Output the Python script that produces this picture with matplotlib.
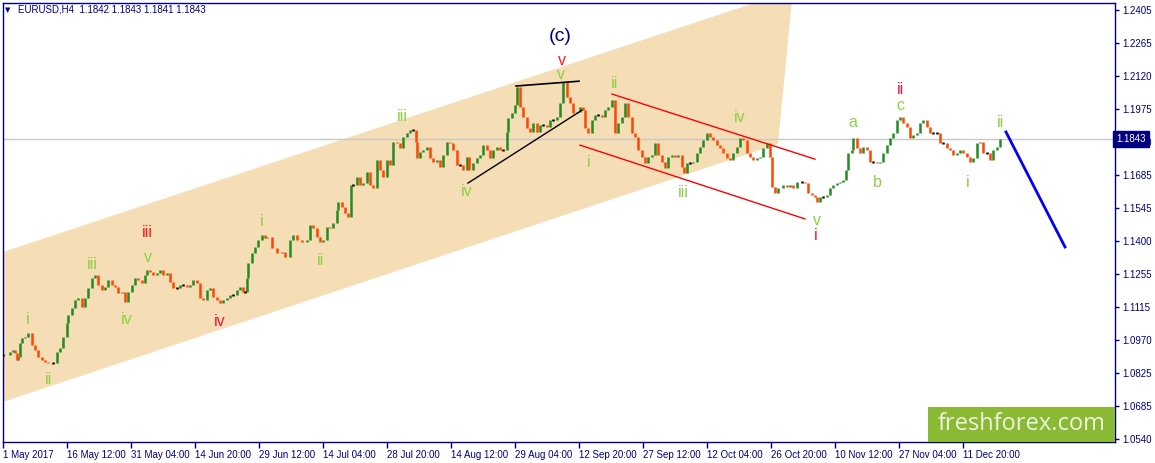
import numpy as np
import matplotlib
matplotlib.use("Agg")
import matplotlib.pyplot as plt
import matplotlib.transforms as mtransforms
from matplotlib.patches import Polygon, Rectangle

# EURUSD H4 closes, thinned to roughly every 3rd-4th bar
# bar = H4 bar number counted from 1 May 2017 00:00
bars_a = [0, 7, 10, 12, 14, 15, 17, 19, 22, 25, 29, 32, 35, 39, 42, 45, 50, 54, 57, 60,
          64, 65, 69, 72, 75, 79, 82, 85, 89, 92, 95, 99, 102, 105, 109, 112, 115, 119, 122, 125,
          129, 132, 135, 139, 142, 144, 147, 150, 154, 157, 160, 164, 167, 170, 174, 177, 180, 184, 187, 190,
          194, 197, 200, 204, 207, 210, 214, 217, 220, 224, 227, 230, 234, 237, 240, 242, 244, 245, 249, 252,
          255, 259, 262]
close_a = [1.0905, 1.0918, 1.0927, 1.0914, 1.0884, 1.0897, 1.0957, 1.0979, 1.0984, 1.1001,
           1.0949, 1.0927, 1.0897, 1.0884, 1.0875, 1.0870, 1.0870, 1.0918, 1.0936, 1.0984,
           1.1044, 1.1079, 1.1110, 1.1144, 1.1153, 1.1114, 1.1153, 1.1197, 1.1240, 1.1253,
           1.1210, 1.1188, 1.1201, 1.1231, 1.1210, 1.1201, 1.1175, 1.1179, 1.1136, 1.1179,
           1.1210, 1.1240, 1.1231, 1.1218, 1.1253, 1.1275, 1.1266, 1.1253, 1.1262, 1.1275,
           1.1253, 1.1262, 1.1223, 1.1197, 1.1197, 1.1210, 1.1210, 1.1201, 1.1210, 1.1231,
           1.1218, 1.1153, 1.1144, 1.1188, 1.1197, 1.1157, 1.1144, 1.1131, 1.1144, 1.1153,
           1.1166, 1.1166, 1.1188, 1.1201, 1.1179, 1.1179, 1.1240, 1.1305, 1.1349, 1.1375,
           1.1405, 1.1427, 1.1414]

bars_b = [264, 269, 274, 279, 282, 287, 290, 294, 299, 304, 307, 310, 314, 317, 320, 324, 327, 330, 334, 335,
          339, 342, 345, 348, 350, 354, 357, 360, 364, 367, 370, 374, 377, 380, 384, 387, 390, 394, 397, 400,
          404, 407, 410, 413, 414, 417, 420, 424, 427, 430, 434, 437, 440, 444, 447, 450, 454, 457, 460, 464,
          466, 470, 474, 477, 480, 484, 487, 490, 494, 497, 500, 504, 505, 509, 512, 514, 517, 520, 524, 527,
          530, 534, 537, 540, 544, 547, 550, 554, 557]
close_b = [1.1418, 1.1370, 1.1349, 1.1353, 1.1331, 1.1405, 1.1427, 1.1405, 1.1396, 1.1405,
           1.1470, 1.1457, 1.1418, 1.1396, 1.1405, 1.1462, 1.1457, 1.1479, 1.1536, 1.1570,
           1.1549, 1.1523, 1.1505, 1.1644, 1.1644, 1.1679, 1.1644, 1.1653, 1.1701, 1.1644,
           1.1631, 1.1753, 1.1710, 1.1679, 1.1753, 1.1731, 1.1831, 1.1827, 1.1805, 1.1853,
           1.1870, 1.1883, 1.1883, 1.1831, 1.1762, 1.1788, 1.1796, 1.1809, 1.1762, 1.1744,
           1.1753, 1.1723, 1.1775, 1.1831, 1.1827, 1.1796, 1.1731, 1.1731, 1.1710, 1.1766,
           1.1710, 1.1740, 1.1762, 1.1775, 1.1818, 1.1796, 1.1762, 1.1796, 1.1809, 1.1796,
           1.1796, 1.1875, 1.1936, 1.1957, 1.1992, 1.2070, 1.1983, 1.1940, 1.1892, 1.1875,
           1.1914, 1.1875, 1.1905, 1.1905, 1.1896, 1.1927, 1.1927, 1.1940, 1.2001]

bars_c = [560, 564, 567, 570, 574, 577, 580, 582, 585, 589, 592, 595, 599, 602, 605, 609, 612, 615, 619, 622,
          625, 629, 632, 635, 639, 642, 645, 649, 652, 655, 659, 662, 665, 669, 672, 675, 679, 681, 684, 687,
          690, 694, 697, 700, 704, 707, 710, 714, 717, 720, 724, 727, 730, 734, 737, 740, 744, 747, 750, 754,
          757, 760, 764, 767, 769, 772, 775, 780, 784, 787, 790, 794]
close_c = [1.2092, 1.2027, 1.2001, 1.1957, 1.1962, 1.1983, 1.1970, 1.1892, 1.1870, 1.1927,
           1.1949, 1.1949, 1.1940, 1.1970, 1.1983, 1.2014, 1.1870, 1.1914, 1.1940, 1.2001,
           1.1940, 1.1870, 1.1853, 1.1796, 1.1766, 1.1740, 1.1766, 1.1775, 1.1827, 1.1775,
           1.1744, 1.1718, 1.1766, 1.1775, 1.1766, 1.1775, 1.1723, 1.1696, 1.1740, 1.1740,
           1.1744, 1.1783, 1.1809, 1.1840, 1.1870, 1.1853, 1.1840, 1.1818, 1.1805, 1.1783,
           1.1762, 1.1753, 1.1783, 1.1809, 1.1849, 1.1840, 1.1783, 1.1766, 1.1753, 1.1762,
           1.1766, 1.1805, 1.1827, 1.1766, 1.1636, 1.1610, 1.1631, 1.1644, 1.1636, 1.1644,
           1.1631, 1.1657]

bars_d = [799, 802, 805, 809, 812, 814, 817, 820, 824, 827, 830, 834, 837, 840, 843, 845, 849, 850, 854, 857,
          860, 864, 867, 870, 874, 877, 880, 884, 887, 890, 894, 897, 900, 904, 907, 910, 914, 917, 920, 924,
          927, 930, 934, 937, 940, 944, 947, 950, 954, 957, 960, 964, 967, 970, 974, 977, 980, 984, 987, 990,
          994, 997]
close_d = [1.1657, 1.1653, 1.1610, 1.1601, 1.1592, 1.1570, 1.1592, 1.1592, 1.1601, 1.1631,
           1.1644, 1.1653, 1.1657, 1.1666, 1.1710, 1.1783, 1.1796, 1.1849, 1.1805, 1.1783,
           1.1809, 1.1796, 1.1744, 1.1744, 1.1740, 1.1744, 1.1783, 1.1818, 1.1849, 1.1870,
           1.1927, 1.1940, 1.1914, 1.1896, 1.1849, 1.1862, 1.1870, 1.1914, 1.1927, 1.1896,
           1.1870, 1.1870, 1.1870, 1.1827, 1.1827, 1.1805, 1.1796, 1.1775, 1.1783, 1.1796,
           1.1783, 1.1766, 1.1744, 1.1762, 1.1827, 1.1831, 1.1783, 1.1783, 1.1753, 1.1796,
           1.1809, 1.1843]

time_labels = ["1 May 2017", "16 May 12:00", "31 May 04:00", "14 Jun 20:00", "29 Jun 12:00",
               "14 Jul 04:00", "28 Jul 20:00", "14 Aug 12:00", "29 Aug 04:00", "12 Sep 20:00",
               "27 Sep 12:00", "12 Oct 04:00", "26 Oct 20:00", "10 Nov 12:00", "27 Nov 04:00",
               "11 Dec 20:00"]
price_labels = ["1.2405", "1.2265", "1.2120", "1.1975", "1.1830", "1.1685", "1.1545",
                "1.1400", "1.1255", "1.1115", "1.0970", "1.0825", "1.0685", "1.0540"]
last_price = 1.1843
header = "EURUSD,H4  1.1842 1.1843 1.1841 1.1843"

# wave counts: (text, bar, price, colour key)
waves = [("i", 25, 1.1058, "g"), ("ii", 46, 1.0797, "g"), ("iii", 89, 1.1301, "g"),
         ("iv", 124, 1.1058, "g"), ("v", 145, 1.1331, "g"), ("iii", 144, 1.1440, "r"),
         ("iv", 217, 1.1053, "c"), ("i", 259, 1.1488, "g"), ("ii", 317, 1.1318, "g"),
         ("iii", 399, 1.1944, "g"), ("iv", 464, 1.1618, "g"), ("v", 558, 1.2127, "g"),
         ("v", 559, 1.2188, "r"), ("i", 586, 1.1744, "g"), ("ii", 611, 1.2088, "g"),
         ("iii", 680, 1.1610, "g"), ("iv", 737, 1.1936, "g"), ("v", 814, 1.1492, "g"),
         ("i", 813, 1.1423, "c"), ("a", 850, 1.1918, "g"), ("b", 874, 1.1657, "g"),
         ("c", 897, 1.1990, "g"), ("ii", 897, 1.2058, "c"), ("i", 965, 1.1657, "g"),
         ("ii", 997, 1.1918, "g")]
wave_colors = {"g": "#8ccf45", "r": "#ff1a1a", "c": "#e8173f"}

navy = "#000080"
up_col = "#228b22"
dn_col = "#ff4500"

bars = np.array(bars_a + bars_b + bars_c + bars_d)
closes = np.array(close_a + close_b + close_c + close_d)
opens = np.concatenate([[closes[0]], closes[:-1]])

fig = plt.figure(figsize=(11.55, 4.63), dpi=100)
ax = fig.add_axes([3 / 1155, 21 / 463, 1112 / 1155, 439 / 463])
ax.set_xlim(0, 1112)
ax.set_ylim(1.0527, 1.2436)

# rising channel (filled)
ax.add_patch(Polygon([(0, 1.1353), (790, 1.2492), (775, 1.1823), (0, 1.0701)],
                     closed=True, fc="#f5deb5", ec="none", zorder=1))

ax.axhline(last_price, color="#c8c8c8", lw=1, zorder=1.5)

# candles
up = closes > opens
dn = closes < opens
flat = ~(up | dn)
ax.vlines(bars[up], opens[up], closes[up], color=up_col, lw=1.8, zorder=3)
ax.vlines(bars[dn], closes[dn], opens[dn], color=dn_col, lw=1.8, zorder=3)
ax.vlines(bars[flat], closes[flat] - 0.0003, closes[flat] + 0.0003, color="black", lw=1.8, zorder=3)

# drawn lines
ax.plot([465, 579], [1.1653, 1.1970], color="black", lw=1, zorder=4)
ax.plot([513, 576], [1.2075, 1.2096], color="black", lw=1.2, zorder=4)
ax.plot([609, 812], [1.2040, 1.1757], color="#ff0000", lw=1, zorder=4)
ax.plot([577, 802], [1.1818, 1.1497], color="#ff0000", lw=1, zorder=4)
ax.plot([1003, 1062], [1.1875, 1.1375], color="#0000ff", lw=2, zorder=4)

for txt, b, p, k in waves:
    ax.text(b, p, txt, color=wave_colors[k], fontsize=11.5, family="Liberation Sans",
            ha="center", va="center", zorder=5)
ax.text(557, 1.2292, "(c)", color=navy, fontsize=14, family="Liberation Sans",
        ha="center", va="center", zorder=5)

# axes styling
for s in ax.spines.values():
    s.set_color(navy)
    s.set_linewidth(1)
ax.set_facecolor("white")
ax.set_xticks(np.arange(len(time_labels)) * 64.02)
ax.set_xticklabels(time_labels, ha="left", fontsize=7, family="Liberation Sans", color=navy)
ax.yaxis.tick_right()
ax.set_yticks(np.linspace(1.2405, 1.0540, len(price_labels)))
ax.set_yticklabels(price_labels, fontsize=7, family="Liberation Sans", color=navy)
ax.tick_params(axis="x", direction="out", length=4, width=1, color=navy, pad=1.5)
ax.tick_params(axis="y", direction="out", length=3, width=1, color=navy, pad=2)

# current price box
trans = mtransforms.blended_transform_factory(ax.transAxes, ax.transData)
ax.text(1.0012, last_price, "1.1843", transform=trans, ha="left", va="center",
        fontsize=7, family="Liberation Sans", color="white", clip_on=False, zorder=10,
        bbox=dict(boxstyle="square,pad=0.3", fc=navy, ec=navy))

# header
fig.text(18 / 1155, 1 - 10 / 463, header, fontsize=7, family="Liberation Sans",
         color=navy, ha="left", va="center")
fig.text(8 / 1155, 1 - 10 / 463, "\u25bc", fontsize=5, color=navy, ha="center", va="center")

# logo
fig.add_artist(Rectangle((928 / 1155, 21 / 463), 187 / 1155, 35 / 463,
                         transform=fig.transFigure, fc="#8ab933", ec="none", zorder=6))
fig.text(1022 / 1155, 1 - 424 / 463, "freshforex.com", fontsize=17, family="Open Sans",
         color="#eef3e2", ha="center", va="center", zorder=7)

fig.savefig("out.png", dpi=100, facecolor="white")
